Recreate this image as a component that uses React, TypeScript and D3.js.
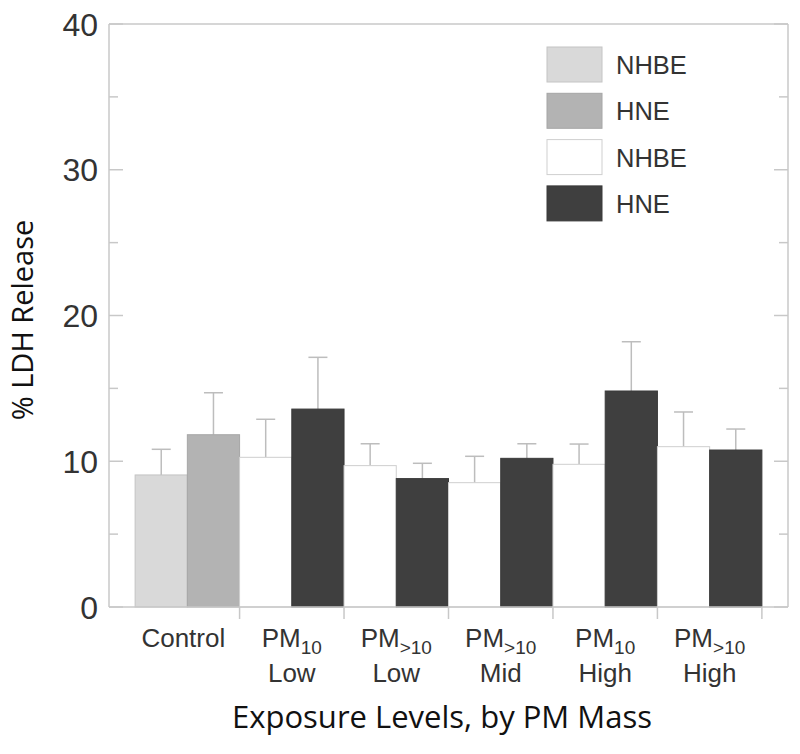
import React from "react";
import * as d3 from "d3";

const categories = ["Control", "PM10 Low", "PM>10 Low", "PM>10 Mid", "PM10 High", "PM>10 High"];
const labelTop = ["Control", "PM", "PM", "PM", "PM", "PM"];
const labelSub = ["", "10", ">10", ">10", "10", ">10"];
const labelBottom = ["", "Low", "Low", "Mid", "High", "High"];

const nhbeValues = [9.06, 10.27, 9.7, 8.53, 9.79, 11.0];
const nhbeErrors = [1.76, 2.61, 1.5, 1.81, 1.39, 2.38];
const hneValues = [11.82, 13.58, 8.81, 10.2, 14.82, 10.77];
const hneErrors = [2.88, 3.55, 1.05, 1.0, 3.38, 1.44];

const legendLabels = ["NHBE", "HNE", "NHBE", "HNE"];
const yMajorTicks = [0, 10, 20, 30, 40];
const yMinorTicks = [5, 15, 25, 35];

const controlNhbeFill = "#d9d9d9";
const controlHneFill = "#b3b3b3";
const pmNhbeFill = "#ffffff";
const pmHneFill = "#3f3f3f";
const legendFills = [controlNhbeFill, controlHneFill, pmNhbeFill, pmHneFill];
const legendStrokes = ["#c4c4c4", "#a6a6a6", "#cfcfcf", "#3a3a3a"];

const axisColor = "#c8c8c8";
const errColor = "#bdbdbd";
const textColor = "#333333";

export default function App() {
  const width = 800;
  const height = 754;
  const left = 109;
  const right = 788;
  const top = 24;
  const bottom = 607;

  const x = d3.scaleBand<string>().domain(categories).range([left, right]).paddingInner(0).paddingOuter(0.25);
  const sub = d3.scaleBand<string>().domain(["nhbe", "hne"]).range([0, x.bandwidth()]).padding(0);
  const y = d3.scaleLinear().domain([0, 40]).range([bottom, top]);

  const bars: any[] = [];
  categories.forEach((c, i) => {
    const isControl = i === 0;
    bars.push({
      key: c + "-n",
      x: (x(c) as number) + (sub("nhbe") as number),
      v: nhbeValues[i],
      e: nhbeErrors[i],
      fill: isControl ? controlNhbeFill : pmNhbeFill,
      stroke: isControl ? "#c4c4c4" : "#cfcfcf",
    });
    bars.push({
      key: c + "-h",
      x: (x(c) as number) + (sub("hne") as number),
      v: hneValues[i],
      e: hneErrors[i],
      fill: isControl ? controlHneFill : pmHneFill,
      stroke: isControl ? "#a6a6a6" : "#3a3a3a",
    });
  });
  const bw = sub.bandwidth();

  return (
    <svg width={width} height={height} style={{ display: "block", position: "absolute", left: 0, top: 0 }}>
      <rect x={0} y={0} width={width} height={height} fill="#ffffff" />
      {/* frame */}
      <line x1={left} x2={right} y1={top} y2={top} stroke={axisColor} strokeWidth={1.5} />
      <line x1={left} x2={left} y1={top} y2={bottom} stroke={axisColor} strokeWidth={1.5} />
      <line x1={right} x2={right} y1={top} y2={bottom} stroke={axisColor} strokeWidth={1.5} />

      {/* y ticks */}
      {yMajorTicks.map((t) => (
        <g key={"M" + t}>
          <line x1={left} x2={left + 14} y1={y(t)} y2={y(t)} stroke={axisColor} strokeWidth={1.5} />
          <line x1={right} x2={right - 14} y1={y(t)} y2={y(t)} stroke={axisColor} strokeWidth={1.5} />
          <text x={98} y={y(t) + 11.5} textAnchor="end" fontFamily="'Liberation Sans', Arial, sans-serif" fontSize={32} fill={textColor}>
            {t}
          </text>
        </g>
      ))}
      {yMinorTicks.map((t) => (
        <g key={"m" + t}>
          <line x1={left} x2={left + 9} y1={y(t)} y2={y(t)} stroke={axisColor} strokeWidth={1.5} />
          <line x1={right} x2={right - 9} y1={y(t)} y2={y(t)} stroke={axisColor} strokeWidth={1.5} />
        </g>
      ))}

      {/* bars */}
      {bars.map((b) => (
        <g key={b.key}>
          <line x1={b.x + bw / 2} x2={b.x + bw / 2} y1={y(b.v)} y2={y(b.v + b.e)} stroke={errColor} strokeWidth={1.5} />
          <line x1={b.x + bw / 2 - 9.5} x2={b.x + bw / 2 + 9.5} y1={y(b.v + b.e)} y2={y(b.v + b.e)} stroke={errColor} strokeWidth={1.5} />
          <rect x={b.x} y={y(b.v)} width={bw} height={bottom - y(b.v)} fill={b.fill} stroke={b.stroke} strokeWidth={1} />
        </g>
      ))}

      {/* x axis */}
      <line x1={left} x2={right} y1={bottom} y2={bottom} stroke={axisColor} strokeWidth={1.5} />
      {categories.map((c) => (
        <line key={"xt" + c} x1={(x(c) as number) + x.bandwidth()} x2={(x(c) as number) + x.bandwidth()} y1={bottom} y2={bottom + 12} stroke={axisColor} strokeWidth={1.5} />
      ))}

      {/* x labels */}
      {categories.map((c, i) => {
        const cx = (x(c) as number) + x.bandwidth() / 2 - (i === 0 ? 4 : 0);
        return (
          <g key={"xl" + c} fontFamily="'Liberation Sans', Arial, sans-serif" fill={textColor}>
            <text x={cx} y={647} textAnchor="middle" fontSize={26}>
              {labelTop[i]}
              {labelSub[i] && (
                <tspan fontSize={19} dy={7}>
                  {labelSub[i]}
                </tspan>
              )}
            </text>
            {labelBottom[i] && (
              <text x={cx} y={682} textAnchor="middle" fontSize={26}>
                {labelBottom[i]}
              </text>
            )}
          </g>
        );
      })}

      {/* legend */}
      {legendLabels.map((l, i) => {
        const ly = 47 + i * 46.3;
        return (
          <g key={"lg" + i}>
            <rect x={547} y={ly} width={55} height={35} fill={legendFills[i]} stroke={legendStrokes[i]} strokeWidth={1} />
            <text x={616} y={ly + 27} fontFamily="'Liberation Sans', Arial, sans-serif" fontSize={25.5} fill={textColor}>
              {l}
            </text>
          </g>
        );
      })}

      {/* axis titles */}
      <text
        transform={`translate(33, 320) rotate(-90)`}
        textAnchor="middle"
        fontFamily="'Open Sans', Lato, sans-serif"
        fontSize={29}
        fill="#111"
      >
        % LDH Release
      </text>
      <text x={442} y={728} textAnchor="middle" fontFamily="'Open Sans', Lato, sans-serif" fontSize={31} fill="#111">
        Exposure Levels, by PM Mass
      </text>
    </svg>
  );
}
